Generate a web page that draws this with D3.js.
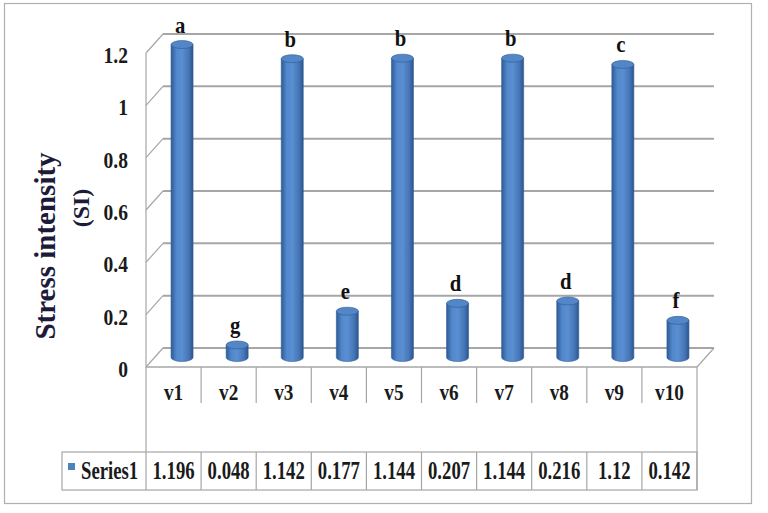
<!DOCTYPE html>
<html><head><meta charset="utf-8">
<script src="https://cdn.jsdelivr.net/npm/d3@7"></script>
<style>html,body{margin:0;padding:0;background:#fff;}svg{display:block;}</style>
</head><body>
<svg id="chart" width="768" height="513"></svg>
<script>
const categories = ['v1','v2','v3','v4','v5','v6','v7','v8','v9','v10'];
const values = [1.196,0.048,1.142,0.177,1.144,0.207,1.144,0.216,1.12,0.142];
const letters = ['a','g','b','e','b','d','b','d','c','f'];
const yTicks = [0,0.2,0.4,0.6,0.8,1,1.2];
const seriesName = 'Series1';
const yTitle1 = 'Stress intensity';
const yTitle2 = '(SI)';

const svg = d3.select('#chart');
const font = '"Liberation Serif","Times New Roman",serif';
const gridColor = '#a6a6a6';
const dx = 17, dy = 19;
const left = 146, right = 697;
const x = d3.scaleBand().domain(categories).range([left, right]);
const yBack = d3.scaleLinear().domain([0,1.2]).range([348,34]);
const yFront = v => yBack(v) + dy;
const yMid = v => yBack(v) + dy/2;

// outer border
svg.append('rect').attr('x',4.5).attr('y',3.5).attr('width',747).attr('height',500)
  .attr('fill','none').attr('stroke','#b0b0b0').attr('stroke-width',1.2);

const defs = svg.append('defs');
const grad = defs.append('linearGradient').attr('id','cyl').attr('x1','0').attr('x2','1').attr('y1','0').attr('y2','0');
[[0,'#2e5c96'],[0.25,'#5288cc'],[0.5,'#5a8fd2'],[0.8,'#4676b6'],[1,'#2b5690']].forEach(s=>grad.append('stop').attr('offset',s[0]).attr('stop-color',s[1]));

// gridlines (back wall) + left slants
const g = svg.append('g');
yTicks.forEach(t=>{
  g.append('line').attr('x1',left+dx).attr('x2',right+dx).attr('y1',yBack(t)).attr('y2',yBack(t))
    .attr('stroke',gridColor).attr('stroke-width',2);
  g.append('line').attr('x1',left).attr('y1',yFront(t)).attr('x2',left+dx).attr('y2',yBack(t))
    .attr('stroke',gridColor).attr('stroke-width',1.2);
});
g.append('line').attr('x1',left).attr('x2',left).attr('y1',yFront(1.2)).attr('y2',yFront(0))
  .attr('stroke',gridColor).attr('stroke-width',1.2);
g.append('line').attr('x1',left).attr('x2',right).attr('y1',yFront(0)).attr('y2',yFront(0))
  .attr('stroke',gridColor).attr('stroke-width',1.5);
g.append('line').attr('x1',right).attr('y1',yFront(0)).attr('x2',right+dx).attr('y2',yBack(0))
  .attr('stroke',gridColor).attr('stroke-width',1.2);

// tick labels
svg.append('g').selectAll('text').data(yTicks).join('text')
  .attr('transform',d=>`translate(128,${yFront(d)+10}) scale(0.85,1)`)
  .attr('text-anchor','end').attr('font-family',font).attr('font-weight','bold').attr('font-size',23)
  .attr('fill','#1a1a1a').text(d=>d3.format('~g')(d));

// axis titles
svg.append('text').attr('transform','translate(55,246) rotate(-90)')
  .attr('text-anchor','middle').attr('font-family',font).attr('font-weight','bold').attr('font-size',29)
  .attr('fill','#1c1c3a').text(yTitle1);
svg.append('text').attr('transform','translate(89,208) rotate(-90)')
  .attr('text-anchor','middle').attr('font-family',font).attr('font-weight','bold').attr('font-size',24)
  .attr('fill','#1c1c3a').text(yTitle2);

// bars (cylinders)
const bw = 22, ry = 4;
const bars = svg.append('g').selectAll('g').data(categories.map((c,i)=>({c,v:values[i],l:letters[i]}))).join('g');
bars.each(function(d){
  const sel = d3.select(this);
  const cx = x(d.c) + x.bandwidth()/2 + dx/2;
  const y0 = yMid(0), y1 = yMid(d.v);
  sel.append('path')
    .attr('d',`M${cx-bw/2},${y1} L${cx-bw/2},${y0} A${bw/2},${ry} 0 0 0 ${cx+bw/2},${y0} L${cx+bw/2},${y1} Z`)
    .attr('fill','url(#cyl)').attr('stroke','#2f5a92').attr('stroke-width',0.6);
  sel.append('ellipse').attr('cx',cx).attr('cy',y1).attr('rx',bw/2).attr('ry',ry)
    .attr('fill','#5286c6').attr('stroke','#2f5a92').attr('stroke-width',0.6);
  sel.append('text').attr('transform',`translate(${cx-2},${y1-12}) scale(0.9,1)`).attr('text-anchor','middle')
    .attr('font-family',font).attr('font-weight','bold').attr('font-size',23).attr('fill','#111').text(d.l);
});

// category row
const catTop = yFront(0), catBot = 403, rowTop = 452, rowBot = 490, legLeft = 62;
const tbl = svg.append('g');
categories.forEach((c,i)=>{
  if(i>0) tbl.append('line').attr('x1',x(c)).attr('x2',x(c)).attr('y1',catTop).attr('y2',catBot)
    .attr('stroke',gridColor).attr('stroke-width',1.2);
});
tbl.append('line').attr('x1',left).attr('x2',left).attr('y1',catTop).attr('y2',rowBot).attr('stroke',gridColor).attr('stroke-width',1.2);
tbl.append('line').attr('x1',right).attr('x2',right).attr('y1',catTop).attr('y2',rowBot).attr('stroke',gridColor).attr('stroke-width',1.2);
tbl.selectAll('text.cat').data(categories).join('text').attr('class','cat')
  .attr('transform',d=>`translate(${x(d)+x.bandwidth()/2},400) scale(0.8,1)`).attr('text-anchor','middle')
  .attr('font-family',font).attr('font-weight','bold').attr('font-size',24).attr('fill','#1a1a1a').text(d=>d);

// data row
tbl.append('rect').attr('x',legLeft).attr('y',rowTop).attr('width',right-legLeft).attr('height',rowBot-rowTop)
  .attr('fill','none').attr('stroke',gridColor).attr('stroke-width',1.2);
categories.forEach((c,i)=>{
  if(i>0) tbl.append('line').attr('x1',x(c)).attr('x2',x(c)).attr('y1',rowTop).attr('y2',rowBot)
    .attr('stroke',gridColor).attr('stroke-width',1.2);
});
tbl.append('rect').attr('x',68).attr('y',463).attr('width',7).attr('height',7).attr('fill','#4f81bd');
tbl.append('text').attr('transform','translate(81,479) scale(0.72,1)').attr('font-family',font).attr('font-weight','bold')
  .attr('font-size',26).attr('fill','#1a1a1a').text(seriesName);
tbl.selectAll('text.val').data(values).join('text').attr('class','val')
  .attr('transform',(d,i)=>`translate(${x(categories[i])+x.bandwidth()/2},479) scale(0.72,1)`).attr('text-anchor','middle')
  .attr('font-family',font).attr('font-weight','bold').attr('font-size',26).attr('fill','#1a1a1a')
  .text(d=>d3.format('~g')(d));
</script>
</body></html>
